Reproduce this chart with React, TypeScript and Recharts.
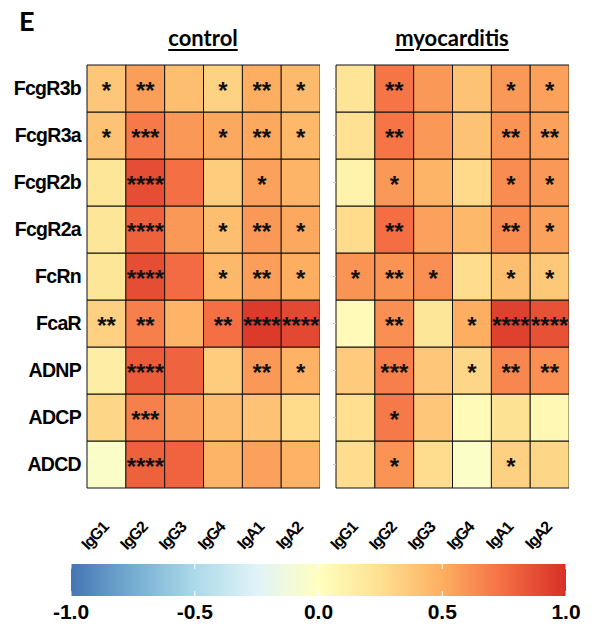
import { Bar, BarChart, Cell, LabelList, XAxis, YAxis } from 'recharts'

const ROWS = ['FcgR3b', 'FcgR3a', 'FcgR2b', 'FcgR2a', 'FcRn', 'FcaR', 'ADNP', 'ADCP', 'ADCD']
const COLS = ['IgG1', 'IgG2', 'IgG3', 'IgG4', 'IgA1', 'IgA2']

const CONTROL_VALUES = [
  [0.38, 0.56, 0.42, 0.32, 0.5, 0.44],
  [0.4, 0.7, 0.58, 0.52, 0.52, 0.45],
  [0.2, 0.88, 0.74, 0.35, 0.55, 0.47],
  [0.2, 0.8, 0.58, 0.42, 0.58, 0.52],
  [0.2, 0.88, 0.76, 0.45, 0.56, 0.5],
  [0.33, 0.68, 0.47, 0.74, 0.96, 0.9],
  [0.14, 0.82, 0.79, 0.35, 0.58, 0.48],
  [0.3, 0.68, 0.57, 0.42, 0.4, 0.27],
  [-0.04, 0.8, 0.79, 0.47, 0.55, 0.48],
]

const CONTROL_STARS = [
  ['*', '**', '', '*', '**', '*'],
  ['*', '***', '', '*', '**', '*'],
  ['', '****', '', '', '*', ''],
  ['', '****', '', '*', '**', '*'],
  ['', '****', '', '*', '**', '*'],
  ['**', '**', '', '**', '****', '****'],
  ['', '****', '', '', '**', '*'],
  ['', '***', '', '', '', ''],
  ['', '****', '', '', '', ''],
]

const MYO_VALUES = [
  [0.22, 0.72, 0.58, 0.4, 0.58, 0.55],
  [0.24, 0.72, 0.58, 0.4, 0.6, 0.55],
  [0.1, 0.58, 0.47, 0.28, 0.63, 0.58],
  [0.27, 0.75, 0.55, 0.45, 0.63, 0.55],
  [0.6, 0.6, 0.62, 0.26, 0.42, 0.37],
  [0.04, 0.62, 0.2, 0.5, 0.93, 0.86],
  [0.36, 0.68, 0.38, 0.3, 0.65, 0.62],
  [0.25, 0.7, 0.38, 0.04, 0.23, 0.06],
  [0.26, 0.6, 0.26, -0.03, 0.33, 0.3],
]

const MYO_STARS = [
  ['', '**', '', '', '*', '*'],
  ['', '**', '', '', '**', '**'],
  ['', '*', '', '', '*', '*'],
  ['', '**', '', '', '**', '*'],
  ['*', '**', '*', '', '*', '*'],
  ['', '**', '', '*', '****', '****'],
  ['', '***', '', '*', '**', '**'],
  ['', '*', '', '', '', ''],
  ['', '*', '', '', '*', ''],
]

const LEGEND_TICKS = [-1, -0.5, 0, 0.5, 1]

// RdYlBu (reversed), -1 .. 1 in steps of 0.25
const PALETTE = ['#4575b4', '#74add1', '#abd9e9', '#e0f3f8', '#ffffbf', '#fee090', '#fdae61', '#f46d43', '#d73027']

function hexToRgb(hex: string) {
  const n = parseInt(hex.slice(1), 16)
  return [(n >> 16) & 255, (n >> 8) & 255, n & 255]
}

function colorFor(value: number) {
  const t = Math.max(0, Math.min(1, (value + 1) / 2)) * (PALETTE.length - 1)
  const i = Math.min(PALETTE.length - 2, Math.floor(t))
  const f = t - i
  const a = hexToRgb(PALETTE[i])
  const b = hexToRgb(PALETTE[i + 1])
  const c = a.map((v, k) => Math.round(v + (b[k] - v) * f))
  return `rgb(${c[0]},${c[1]},${c[2]})`
}

const tableData = COLS.map((col) => {
  const row: Record<string, number | string> = { col }
  ROWS.forEach((_, r) => {
    row[`r${r}`] = 1
  })
  return row
})

const ROW_TICKS = ROWS.map((_, i) => i + 0.5)
const FONT = '"Liberation Sans", Arial, sans-serif'

function ColTick({ x, y, payload }: { x?: number; y?: number; payload?: { value: string } }) {
  return (
    <g transform={`translate(${(x ?? 0) + 3},${(y ?? 0) + 40})`}>
      <text
        textAnchor="end"
        transform="rotate(-47)"
        fill="#000"
        fontSize={16}
        fontWeight={700}
        fontFamily={FONT}
        letterSpacing={-1.1}
      >
        {payload?.value}
      </text>
    </g>
  )
}

function Panel({ values, stars, showRows }: { values: number[][]; stars: string[][]; showRows: boolean }) {
  // first stacked bar sits at the bottom, so walk rows from the last one up
  const order = ROWS.map((_, i) => ROWS.length - 1 - i)
  const axisWidth = showRows ? 87 : 40
  return (
    <BarChart
      width={axisWidth + 233}
      height={560}
      data={tableData}
      margin={{ top: 65, right: 0, left: 0, bottom: 0 }}
      barCategoryGap={0}
      barGap={0}
      style={{ overflow: 'visible' }}
    >
      <XAxis
        dataKey="col"
        height={72}
        axisLine={false}
        tickLine={false}
        tickSize={0}
        tickMargin={0}
        interval={0}
        tick={<ColTick />}
      />
      <YAxis
        type="number"
        domain={[0, ROWS.length]}
        ticks={ROW_TICKS}
        width={axisWidth}
        axisLine={false}
        tickLine={showRows ? false : { stroke: '#c8c8c8' }}
        tickSize={showRows ? 6 : 3}
        tickMargin={0}
        interval={0}
        tickFormatter={(v: number) => (showRows ? ROWS[ROWS.length - 1 - Math.floor(v)] : '')}
        tick={{ fill: '#000', fontSize: 19.5, fontWeight: 700, fontFamily: FONT, letterSpacing: -0.7 }}
      />
      {order.map((r) => (
        <Bar key={r} dataKey={`r${r}`} stackId="a" isAnimationActive={false} stroke="#111" strokeWidth={1}>
          {COLS.map((c, ci) => (
            <Cell key={c} fill={colorFor(values[r][ci])} />
          ))}
          <LabelList
            dataKey={`r${r}`}
            content={(p: any) => (
              <text
                x={Number(p.x) + Number(p.width) / 2}
                y={Number(p.y) + Number(p.height) / 2 + 10}
                textAnchor="middle"
                fill="#111"
                fontSize={24}
                fontWeight={700}
                fontFamily={FONT}
              >
                {stars[r][p.index]}
              </text>
            )}
          />
        </Bar>
      ))}
    </BarChart>
  )
}

function ColorBar() {
  const w = 495
  const h = 32
  return (
    <svg width={w + 60} height={70} style={{ position: 'absolute', left: 41, top: 564, overflow: 'visible' }}>
      <defs>
        <linearGradient id="rdylbu" x1="0" x2="1" y1="0" y2="0">
          {PALETTE.map((c, i) => (
            <stop key={c} offset={i / (PALETTE.length - 1)} stopColor={c} />
          ))}
        </linearGradient>
      </defs>
      <rect x={30} y={0} width={w} height={h} fill="url(#rdylbu)" />
      {LEGEND_TICKS.map((t) => {
        const tx = 30 + ((t + 1) / 2) * w
        return (
          <g key={t}>
            <line x1={tx} x2={tx} y1={0} y2={5} stroke="#fff" strokeWidth={1} />
            <line x1={tx} x2={tx} y1={h - 5} y2={h} stroke="#fff" strokeWidth={1} />
            <text x={tx} y={55} textAnchor="middle" fontSize={21} fontWeight={700} fontFamily={FONT} fill="#000">
              {t.toFixed(1)}
            </text>
          </g>
        )
      })}
    </svg>
  )
}

export default function App() {
  const titleStyle = {
    position: 'absolute' as const,
    top: 24,
    fontFamily: 'Lato, "Open Sans", sans-serif',
    fontWeight: 700,
    fontSize: 22,
    textDecoration: 'underline',
    textDecorationThickness: 2,
    textUnderlineOffset: 3,
    color: '#000',
    transform: 'translateX(-50%)',
    whiteSpace: 'nowrap' as const,
  }
  return (
    <div style={{ position: 'absolute', left: 0, top: 0, width: 595, height: 629, background: '#fff' }}>
      <div
        style={{
          position: 'absolute',
          left: 19,
          top: 4,
          fontFamily: 'Lato, "Open Sans", sans-serif',
          fontWeight: 700,
          fontSize: 27,
          color: '#000',
        }}
      >
        E
      </div>
      <div style={{ ...titleStyle, left: 203 }}>control</div>
      <div style={{ ...titleStyle, left: 452 }}>myocarditis</div>
      <div style={{ position: 'absolute', left: 0, top: 0 }}>
        <Panel values={CONTROL_VALUES} stars={CONTROL_STARS} showRows />
      </div>
      <div style={{ position: 'absolute', left: 296, top: 0 }}>
        <Panel values={MYO_VALUES} stars={MYO_STARS} showRows={false} />
      </div>
      <ColorBar />
    </div>
  )
}
